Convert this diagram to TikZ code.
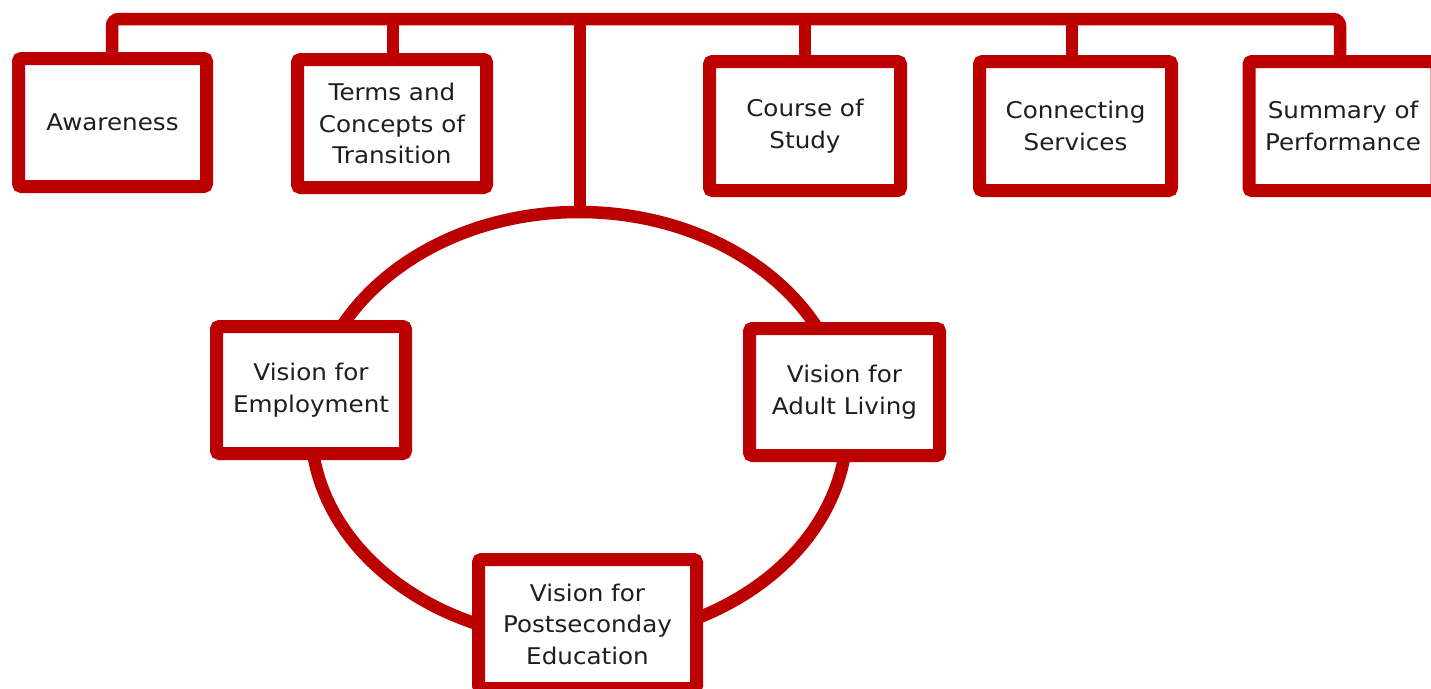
\documentclass[tikz,border=0pt]{standalone}
\usepackage{fontspec}
\setmainfont{DejaVu Sans}[FakeStretch=1.07]
\usetikzlibrary{shapes.geometric}
\definecolor{boxred}{RGB}{188,0,0}
\definecolor{txt}{RGB}{30,30,30}
\tikzset{
  link/.style={draw=boxred, line width=12.5pt},
  card/.style={draw=boxred, fill=white, line width=13pt, rounded corners=3pt,
    align=center, text=txt, inner sep=0pt,
    font=\fontsize{23pt}{31.5pt}\selectfont},
}
\begin{document}
\begin{tikzpicture}[x=1pt,y=-1pt]
\useasboundingbox[fill=white] (0,0) rectangle (1431,688);
% ring
\node[ellipse, link, minimum width=536pt, minimum height=428pt, inner sep=0pt] (ring) at (579,426) {};
% top bar coordinates
\coordinate (b1) at (112,19);
\coordinate (b2) at (393,19);
\coordinate (b3) at (580,19);
\coordinate (b4) at (805,19);
\coordinate (b5) at (1072,19);
\coordinate (b6) at (1340,19);
% boxes
\node[card, minimum width=188pt, minimum height=128pt] (aw) at (112.5,122.5) {Awareness};
\node[card, minimum width=189pt, minimum height=128pt] (tc) at (392,123.5) {Terms and\\Concepts of\\Transition};
\node[card, minimum width=191pt, minimum height=129pt] (cs) at (805,126) {Course of\\Study};
\node[card, minimum width=192pt, minimum height=129pt] (cn) at (1075.5,126) {Connecting\\Services};
\node[card, minimum width=188pt, minimum height=129pt] (sp) at (1343,126) {Summary of\\Performance};
\node[card, minimum width=189pt, minimum height=127pt] (ve) at (311,390) {Vision for\\Employment};
\node[card, minimum width=190pt, minimum height=127pt] (va) at (844.5,392) {Vision for\\Adult Living};
\node[card, minimum width=218pt, minimum height=129pt] (vp) at (587.5,624) {Vision for\\Postseconday\\Education};
% connectors
\draw[link, rounded corners=7pt] (aw.north -| b1) -- (b1) -- (b6) -- (sp.north -| b6);
\draw[link] (b2) -- (tc.north -| b2);
\draw[link] (b4) -- (cs.north -| b4);
\draw[link] (b5) -- (cn.north -| b5);
\draw[link] (b3) -- (ring.north -| b3);
\end{tikzpicture}
\end{document}
